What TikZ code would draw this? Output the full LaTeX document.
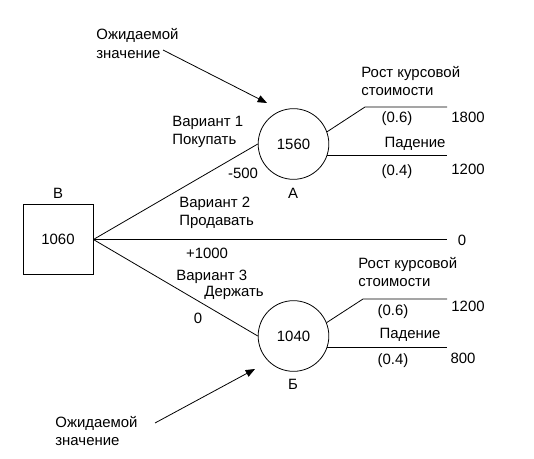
\documentclass[tikz,border=0pt]{standalone}
\usepackage{fontspec}
\setmainfont{Liberation Sans}
\usetikzlibrary{arrows.meta}
\begin{document}
\begin{tikzpicture}[x=0.75pt, y=-0.75pt, line width=0.6pt,
    font=\fontsize{11.2}{13.8}\selectfont,
    decision/.style={draw, rectangle, minimum width=52.5pt, minimum height=53pt, inner sep=0pt},
    chance/.style={draw, circle, minimum size=53pt, inner sep=0pt},
    txt/.style={inner sep=0pt, align=left, anchor=west},
    pointer/.style={-{Triangle[length=7pt, width=5.5pt]}}]
        \useasboundingbox (0,0) rectangle (534,459);

        % Draw the decision box and the two chance circles
        \node[decision] (dec) at (58,239.5) {1060};
        \node (decLbl) at (58,193) {В};
        \node[chance] (ndA) at (293.5,144) {1560};
        \node (lblA) at (293,193) {А};
        \node[chance] (ndB) at (293.5,336) {1040};
        \node (lblB) at (293,384) {Б};

        % ends of the branches
        \coordinate (sellEnd) at (447,239.5);
        \coordinate (aUpKnee) at (365,107);
        \coordinate (aUpEnd) at (447,107);
        \coordinate (aDownEnd) at (447,155);
        \coordinate (bUpKnee) at (363,299);
        \coordinate (bUpEnd) at (447,299);
        \coordinate (bDownEnd) at (447,347);

        % draw branches
        \draw (dec.east) -- (ndA.west);
        \draw (dec.east) -- (sellEnd);
        \draw (dec.east) -- (ndB.west);
        \draw (ndA.20) -- (aUpKnee) -- (aUpEnd);
        \draw (ndA.-18) -- (ndA.-18 -| aDownEnd);
        \draw (ndB.22) -- (bUpKnee) -- (bUpEnd);
        \draw (ndB.-18) -- (ndB.-18 -| bDownEnd);

        % labels of the options
        \node[txt] (opt1) at (172,132) {Вариант 1\\Покупать};
        \node (cost1) at (243,173) {-500};
        \node[txt] (opt2) at (179,213) {Вариант 2\\Продавать};
        \node (cost2) at (207,253) {+1000};
        \node (res2) at (462,240) {0};
        \node[txt] (opt3a) at (176,277) {Вариант 3};
        \node[txt] (opt3b) at (204,293) {Держать};
        \node (cost3) at (198,318) {0};

        % labels of node A
        \node[txt] (upA) at (361,81) {Рост курсовой\\стоимости};
        \node (pUpA) at (397,119) {(0.6)};
        \node (resUpA) at (468,117) {1800};
        \node (downA) at (415,144) {Падение};
        \node (pDownA) at (397,172) {(0.4)};
        \node (resDownA) at (468,169) {1200};

        % labels of node B
        \node[txt] (upB) at (358,272) {Рост курсовой\\стоимости};
        \node (pUpB) at (393,312) {(0.6)};
        \node (resUpB) at (468,306) {1200};
        \node (downB) at (410,335) {Падение};
        \node (pDownB) at (393,361) {(0.4)};
        \node (resDownB) at (463,358) {800};

        % expected value notes
        \node[txt] (noteA) at (96,43.5) {Ожидаемой\\значение};
        \node[txt] (noteB) at (55,431) {Ожидаемой\\значение};
        \coordinate (fromA) at (163,50);
        \coordinate (tipA) at (267,103);
        \coordinate (fromB) at (155,423);
        \coordinate (tipB) at (255,369);
        \draw[pointer] (fromA) -- (tipA);
        \draw[pointer] (fromB) -- (tipB);

    \end{tikzpicture}
\end{document}
